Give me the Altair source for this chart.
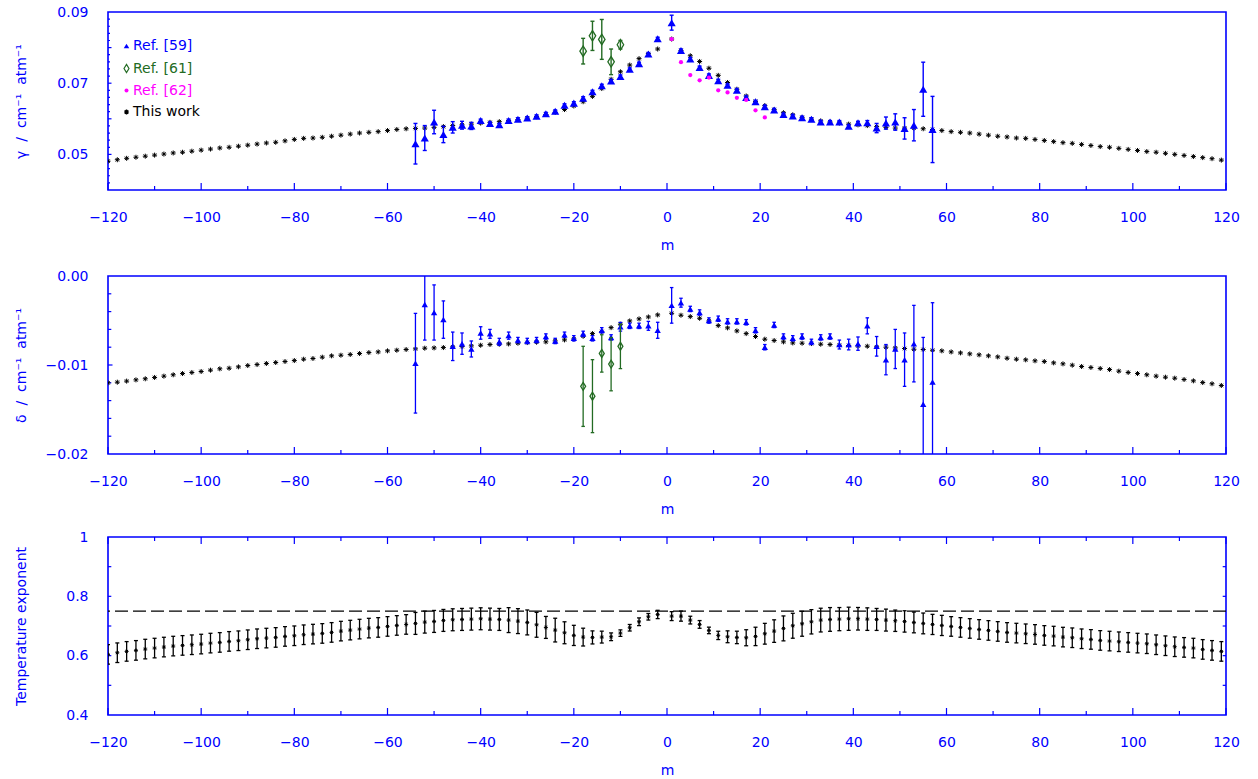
import altair as alt
import pandas as pd

BLUE = "#0000ff"
GREEN = "#236b23"
MAGENTA = "#ff00ff"
BLACK = "#000000"
FONT = "DejaVu Sans"
W, H = 1118, 178
NBSP = "\u00a0"

# symbol outlines (unit square, scaled by mark size)
ASTERISK = "M-1,0L1,0M0,-1L0,1M-0.7,-0.7L0.7,0.7M-0.7,0.7L0.7,-0.7"
NARROW_DIAMOND = "M-0.62,0L0,-1L0.62,0L0,1Z"

# ---------------------------------------------------------------- data
# m index: P branch (even, negative) and R branch (odd, positive)
m_this = list(range(-120, 0, 2)) + list(range(1, 120, 2))

gamma_this = [
    0.0481, 0.0485, 0.0489, 0.0492, 0.0495, 0.0498, 0.0501, 0.0504, 0.0506, 0.0509,
    0.0512, 0.0515, 0.0518, 0.0520, 0.0523, 0.0526, 0.0529, 0.0532, 0.0534, 0.0538,
    0.0542, 0.0545, 0.0546, 0.0548, 0.0551, 0.0554, 0.0557, 0.0560, 0.0562, 0.0564,
    0.0567, 0.0570, 0.0572, 0.0573, 0.0574, 0.0576, 0.0578, 0.0581, 0.0583, 0.0585,
    0.0588, 0.0590, 0.0592, 0.0595, 0.0598, 0.0602, 0.0606, 0.0612, 0.0618, 0.0626,
    0.0636, 0.0648, 0.0663, 0.0685, 0.0711, 0.0732, 0.0751, 0.0769, 0.0783, 0.0796,
    0.0824, 0.0792, 0.0777, 0.0761, 0.0742, 0.0722, 0.0702, 0.0683, 0.0664, 0.0649,
    0.0637, 0.0626, 0.0617, 0.0611, 0.0604, 0.0599, 0.0594, 0.0591, 0.0588, 0.0585,
    0.0583, 0.0581, 0.0578, 0.0576, 0.0574, 0.0574, 0.0574, 0.0572, 0.0570, 0.0567,
    0.0564, 0.0562, 0.0560, 0.0557, 0.0554, 0.0551, 0.0549, 0.0546, 0.0545, 0.0542,
    0.0539, 0.0536, 0.0533, 0.0531, 0.0528, 0.0525, 0.0522, 0.0520, 0.0517, 0.0514,
    0.0511, 0.0508, 0.0506, 0.0503, 0.0500, 0.0497, 0.0494, 0.0491, 0.0488, 0.0484,
]

delta_this = [
    -0.01200, -0.01193, -0.01181, -0.01167, -0.01155, -0.01140, -0.01125, -0.01110, -0.01096, -0.01084,
    -0.01073, -0.01058, -0.01043, -0.01036, -0.01021, -0.01006, -0.00995, -0.00983, -0.00972, -0.00961,
    -0.00950, -0.00935, -0.00927, -0.00912, -0.00897, -0.00890, -0.00882, -0.00871, -0.00860, -0.00853,
    -0.00841, -0.00834, -0.00826, -0.00819, -0.00811, -0.00808, -0.00804, -0.00796, -0.00793, -0.00785,
    -0.00778, -0.00770, -0.00766, -0.00763, -0.00755, -0.00748, -0.00744, -0.00740, -0.00729, -0.00718,
    -0.00707, -0.00677, -0.00647, -0.00624, -0.00580, -0.00542, -0.00505, -0.00482, -0.00460, -0.00437,
    -0.00419, -0.00441, -0.00456, -0.00475, -0.00505, -0.00557, -0.00583, -0.00617, -0.00647, -0.00680,
    -0.00710, -0.00725, -0.00740, -0.00752, -0.00755, -0.00759, -0.00766, -0.00770, -0.00778, -0.00781,
    -0.00785, -0.00789, -0.00796, -0.00800, -0.00808, -0.00815, -0.00823, -0.00826, -0.00834, -0.00841,
    -0.00853, -0.00864, -0.00875, -0.00886, -0.00897, -0.00909, -0.00924, -0.00935, -0.00942, -0.00953,
    -0.00961, -0.00976, -0.00987, -0.01002, -0.01017, -0.01028, -0.01039, -0.01051, -0.01069, -0.01084,
    -0.01096, -0.01110, -0.01125, -0.01137, -0.01148, -0.01163, -0.01178, -0.01197, -0.01211, -0.01230,
]

n_this = [
    0.6043, 0.6099, 0.6144, 0.6178, 0.6222, 0.6256, 0.6290, 0.6323, 0.6346, 0.6368,
    0.6391, 0.6424, 0.6447, 0.6481, 0.6503, 0.6537, 0.6570, 0.6593, 0.6615, 0.6649,
    0.6671, 0.6705, 0.6727, 0.6750, 0.6784, 0.6828, 0.6862, 0.6896, 0.6929, 0.6952,
    0.6986, 0.7019, 0.7053, 0.7087, 0.7131, 0.7154, 0.7188, 0.7210, 0.7221, 0.7232,
    0.7244, 0.7232, 0.7221, 0.7199, 0.7165, 0.7120, 0.7041, 0.6952, 0.6862, 0.6772,
    0.6683, 0.6626, 0.6615, 0.6626, 0.6637, 0.6761, 0.6941, 0.7143, 0.7311, 0.7389,
    0.7333, 0.7333, 0.7199, 0.7053, 0.6851, 0.6683, 0.6637, 0.6615, 0.6604, 0.6649,
    0.6739, 0.6828, 0.6919, 0.7008, 0.7075, 0.7142, 0.7199, 0.7221, 0.7232, 0.7244,
    0.7244, 0.7232, 0.7221, 0.7199, 0.7177, 0.7154, 0.7120, 0.7087, 0.7053, 0.7019,
    0.6985, 0.6952, 0.6918, 0.6884, 0.6851, 0.6817, 0.6783, 0.6761, 0.6738, 0.6716,
    0.6682, 0.6660, 0.6626, 0.6604, 0.6570, 0.6548, 0.6514, 0.6492, 0.6469, 0.6447,
    0.6424, 0.6402, 0.6368, 0.6335, 0.6301, 0.6279, 0.6256, 0.6211, 0.6178, 0.6144,
]

n_err = (
    [0.033] * 33
    + [0.037] * 10
    + [0.042, 0.042, 0.042, 0.042, 0.037, 0.040, 0.037, 0.034, 0.030, 0.022,
       0.020, 0.013, 0.011, 0.011, 0.013, 0.011, 0.014]
    + [0.015, 0.017, 0.013, 0.013, 0.011, 0.014, 0.020, 0.021, 0.027, 0.031,
       0.035, 0.038, 0.042, 0.042, 0.042, 0.041, 0.040, 0.040, 0.039, 0.039,
       0.038, 0.038, 0.037, 0.037, 0.036, 0.036, 0.035, 0.035, 0.034, 0.034]
    + [0.033] * 30
)

# Ref. [59]
m_59 = list(range(-54, 0, 2)) + list(range(1, 58, 2))
gamma_59 = [
    0.0530, 0.0546, 0.0591, 0.0556, 0.0576, 0.0582, 0.0580, 0.0595, 0.0587, 0.0583,
    0.0595, 0.0599, 0.0602, 0.0607, 0.0614, 0.0621, 0.0638, 0.0644, 0.0658, 0.0676,
    0.0693, 0.0706, 0.0719, 0.0739, 0.0755, 0.0782, 0.0825,
    0.0870, 0.0792, 0.0768, 0.0744, 0.0722, 0.0707, 0.0694, 0.0680, 0.0660, 0.0648,
    0.0634, 0.0625, 0.0612, 0.0608, 0.0603, 0.0599, 0.0591, 0.0591, 0.0591, 0.0579,
    0.0589, 0.0589, 0.0574, 0.0588, 0.0591, 0.0573, 0.0582, 0.0683, 0.0570,
]
gamma_59_err = (
    [0.0057, 0.0035, 0.0033, 0.0023, 0.0016, 0.0011, 0.0010] + [0.0004] * 20
    + [0.0021] + [0.0004] * 20
    + [0.0006, 0.0013, 0.0017, 0.0023, 0.0030, 0.0044, 0.0076, 0.0093]
)
delta_59 = [
    -0.0098, -0.0032, -0.0041, -0.0049, -0.0079, -0.0076, -0.0082, -0.0064, -0.0065, -0.0074,
    -0.0067, -0.0072, -0.0073, -0.0072, -0.0068, -0.0073, -0.0066, -0.0070, -0.0065, -0.0070,
    -0.0061, -0.0069, -0.0057, -0.0056, -0.0056, -0.0056, -0.0061,
    -0.0033, -0.0030, -0.0037, -0.0041, -0.0050, -0.0048, -0.0051, -0.0051, -0.0052, -0.0061,
    -0.0080, -0.0055, -0.0068, -0.0070, -0.0068, -0.0074, -0.0069, -0.0068, -0.0077, -0.0077,
    -0.0076, -0.0056, -0.0079, -0.0094, -0.0082, -0.0094, -0.0076, -0.0144, -0.0119,
]
delta_59_err = (
    [0.0056, 0.0040, 0.0031, 0.0021, 0.0016, 0.0012, 0.0009, 0.0007, 0.0005, 0.0004, 0.0004]
    + [0.0003] * 11
    + [0.0005, 0.0003, 0.0003, 0.0005, 0.0009]
    + [0.0020, 0.0005] + [0.0003] * 16
    + [0.0005, 0.0006, 0.00075, 0.0009, 0.0011, 0.0017, 0.0022, 0.0030, 0.0043, 0.0075, 0.0089]
)

# Ref. [61]
m_61 = [-18, -16, -14, -12, -10]
gamma_61 = [0.0790, 0.0833, 0.0823, 0.0760, 0.0808]
gamma_61_err = [0.0036, 0.0041, 0.0056, 0.0036, 0.0012]
delta_61 = [-0.0124, -0.0135, -0.0087, -0.0099, -0.0079]
delta_61_err = [0.0045, 0.0041, 0.0021, 0.0030, 0.0025]

# Ref. [62]
m_62 = [1, 3, 5, 7, 9, 11, 13, 15, 17, 19, 21]
gamma_62 = [0.0824, 0.0759, 0.0723, 0.0708, 0.0716, 0.0680, 0.0674, 0.0659, 0.0653, 0.0624, 0.0604]

# reference value of the temperature exponent
n_reference = [0.75]

legend_labels = ["Ref. [59]", "Ref. [61]", "Ref. [62]", "This work"]
legend_colors = [BLUE, GREEN, MAGENTA, BLACK]

# axis ticks
x_major = [-120, -100, -80, -60, -40, -20, 0, 20, 40, 60, 80, 100, 120]
x_minor = [-110, -90, -70, -50, -30, -10, 10, 30, 50, 70, 90, 110]
gamma_labels = [0.05, 0.07, 0.09]
gamma_major = [0.05, 0.06, 0.07, 0.08]
gamma_minor = [round(0.04 + 0.002 * i, 3) for i in range(1, 25) if i % 5 != 0]
delta_labels = [-0.02, -0.01, 0.0]
delta_major = [-0.01]
delta_minor = [round(-0.02 + 0.002 * i, 3) for i in range(1, 10) if i % 5 != 0]
n_labels = [0.4, 0.6, 0.8, 1.0]
n_minor = [0.5, 0.6, 0.7, 0.8, 0.9]

# ---------------------------------------------------------------- tables
this_work = pd.DataFrame({"m": m_this, "gamma": gamma_this, "delta": delta_this,
                          "n": n_this, "n_err": n_err})
this_work["n_lo"] = this_work["n"] - this_work["n_err"]
this_work["n_hi"] = this_work["n"] + this_work["n_err"]

ref59 = pd.DataFrame({"m": m_59, "gamma": gamma_59, "g_err": gamma_59_err,
                      "delta": delta_59, "d_err": delta_59_err})
ref61 = pd.DataFrame({"m": m_61, "gamma": gamma_61, "g_err": gamma_61_err,
                      "delta": delta_61, "d_err": delta_61_err})
for df in (ref59, ref61):
    df["g_lo"] = df["gamma"] - df["g_err"]
    df["g_hi"] = df["gamma"] + df["g_err"]
    df["d_lo"] = df["delta"] - df["d_err"]
    df["d_hi"] = df["delta"] + df["d_err"]
ref62 = pd.DataFrame({"m": m_62, "gamma": gamma_62})

# ---------------------------------------------------------------- encodings
X_AXIS = alt.Axis(values=x_major, format="d", labelPadding=20, titlePadding=14, labelFlush=False)
X_SCALE = alt.Scale(domain=[-120, 120], nice=False, zero=False, padding=0)


def xenc(field):
    return alt.X(f"{field}:Q", title="m", scale=X_SCALE, axis=X_AXIS)


def make_yenc(domain, values, fmt, title):
    axis = alt.Axis(values=values, format=fmt, labelPadding=20, titleX=-80, labelFlush=False)
    scale = alt.Scale(domain=domain, nice=False, zero=False, padding=0)

    def yenc(field):
        return alt.Y(f"{field}:Q", title=title, scale=scale, axis=axis)
    return yenc


def frame_ticks(yenc, y_major, y_minor, y_major_len, y_minor_len, mirror=False):
    layers = []
    for vals, length in ((x_major, 7), (x_minor, 4)):
        base = alt.Chart(pd.DataFrame({"t": vals})).mark_rule(color=BLUE, strokeWidth=1.2)
        layers.append(base.encode(x=xenc("t"), y=alt.value(H), y2=alt.value(H - length)))
        if mirror:
            layers.append(base.encode(x=xenc("t"), y=alt.value(0), y2=alt.value(length)))
    for vals, length in ((y_major, y_major_len), (y_minor, y_minor_len)):
        if not vals:
            continue
        base = alt.Chart(pd.DataFrame({"t": vals})).mark_rule(color=BLUE, strokeWidth=1.2)
        layers.append(base.encode(y=yenc("t"), x=alt.value(0), x2=alt.value(length)))
        if mirror:
            layers.append(base.encode(y=yenc("t"), x=alt.value(W), x2=alt.value(W - length)))
    return layers


def error_bars(df, yenc, lo, hi, color, width=1.4, cap=4):
    stem = alt.Chart(df).mark_rule(color=color, strokeWidth=width, clip=True).encode(
        x=xenc("m"), y=yenc(lo), y2=alt.Y2(f"{hi}:Q"))
    caps = [
        alt.Chart(df).mark_tick(orient="horizontal", color=color, size=cap, thickness=width,
                                opacity=1, clip=True).encode(x=xenc("m"), y=yenc(f))
        for f in (lo, hi)
    ]
    return [stem] + caps


def asterisks(df, yenc, field, size=25):
    return alt.Chart(df).mark_point(shape=ASTERISK, filled=False, color=BLACK, strokeWidth=1,
                                    size=size, opacity=1, clip=True).encode(x=xenc("m"), y=yenc(field))


def triangles(df, yenc, field, size):
    return alt.Chart(df).mark_point(shape="triangle-up", filled=True, color=BLUE, size=size,
                                    opacity=1, clip=True).encode(x=xenc("m"), y=yenc(field))


def diamonds(df, yenc, field, size):
    return alt.Chart(df).mark_point(shape=NARROW_DIAMOND, filled=False, color=GREEN, strokeWidth=1.3,
                                    size=size, opacity=1, clip=True).encode(x=xenc("m"), y=yenc(field))


def spaced(text):
    return text.replace(" ", " " + NBSP)


# ---------------------------------------------------------------- pressure broadening
y_gamma = make_yenc([0.04, 0.09], gamma_labels, ".2f", spaced("γ / cm⁻¹ atm⁻¹"))

legend_layers = []
legend_shapes = [("triangle-up", True, 30), (NARROW_DIAMOND, False, 64), ("circle", True, 16), (ASTERISK, False, 25)]
legend_rows = [34, 56.5, 78.5, 100]
for label, color, (shape, filled, size), row in zip(legend_labels, legend_colors, legend_shapes, legend_rows):
    one = pd.DataFrame({"label": [label]})
    legend_layers.append(alt.Chart(one).mark_point(shape=shape, filled=filled, color=color, size=size,
                                                   strokeWidth=1.2, opacity=1)
                         .encode(x=alt.value(18.5), y=alt.value(row)))
    legend_layers.append(alt.Chart(one).mark_text(align="left", baseline="middle", font=FONT, fontSize=14,
                                                  color=color)
                         .encode(x=alt.value(25), y=alt.value(row), text="label:N"))

gamma_panel = alt.layer(
    *frame_ticks(y_gamma, gamma_major, gamma_minor, 3.5, 2),
    asterisks(this_work, y_gamma, "gamma"),
    *error_bars(ref59, y_gamma, "g_lo", "g_hi", BLUE),
    triangles(ref59, y_gamma, "gamma", 66),
    *error_bars(ref61, y_gamma, "g_lo", "g_hi", GREEN),
    diamonds(ref61, y_gamma, "gamma", 110),
    alt.Chart(ref62).mark_circle(color=MAGENTA, size=18, opacity=1, clip=True).encode(
        x=xenc("m"), y=y_gamma("gamma")),
    *legend_layers,
).properties(width=W, height=H)

# ---------------------------------------------------------------- pressure shift
y_delta = make_yenc([-0.02, 0.0], delta_labels, ".2f", spaced("δ / cm⁻¹ atm⁻¹"))

delta_panel = alt.layer(
    *frame_ticks(y_delta, delta_major, delta_minor, 4.5, 3.3),
    asterisks(this_work, y_delta, "delta"),
    *error_bars(ref59, y_delta, "d_lo", "d_hi", BLUE, width=1.3, cap=3.5),
    triangles(ref59, y_delta, "delta", 40),
    *error_bars(ref61, y_delta, "d_lo", "d_hi", GREEN, width=1.3, cap=3.5),
    diamonds(ref61, y_delta, "delta", 64),
).properties(width=W, height=H)

# ---------------------------------------------------------------- temperature exponent
y_n = make_yenc([0.4, 1.0], n_labels, "~g", "Temperature exponent")

n_panel = alt.layer(
    *frame_ticks(y_n, [], n_minor, 0, 3.3, mirror=True),
    alt.Chart(pd.DataFrame({"n": n_reference})).mark_rule(color=BLACK, strokeWidth=1.2,
                                                          strokeDash=[13, 5]).encode(y=y_n("n")),
    *error_bars(this_work, y_n, "n_lo", "n_hi", BLACK, width=1.3, cap=4),
    asterisks(this_work, y_n, "n", size=16),
).properties(width=W, height=H)

chart = alt.vconcat(
    alt.vconcat(gamma_panel, delta_panel, spacing=15),
    n_panel,
    spacing=12,
).properties(
    padding={"left": 13, "top": 4, "right": 10, "bottom": 0},
    background="white",
).configure_view(
    stroke=BLUE, strokeWidth=1.6,
).configure_axis(
    grid=False, domain=False, ticks=False,
    labelFont=FONT, labelFontSize=14, labelColor=BLUE,
    titleFont=FONT, titleFontSize=14, titleColor=BLUE, titleFontWeight="normal",
)

chart.save("out.html", embed_options={"renderer": "svg", "actions": False})
